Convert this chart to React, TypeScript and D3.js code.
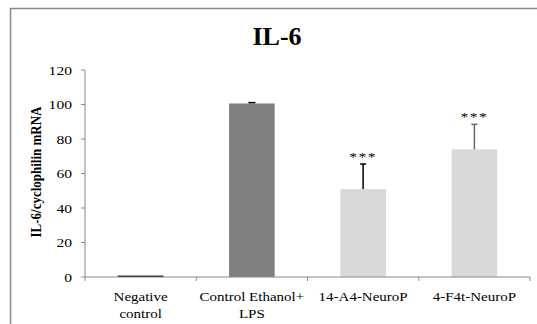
import React from "react";
import * as d3 from "d3";

const categories = ["Negative control", "Control Ethanol+ LPS", "14-A4-NeuroP", "4-F4t-NeuroP"];
const labelLines = [["Negative", "control"], ["Control Ethanol+", "LPS"], ["14-A4-NeuroP"], ["4-F4t-NeuroP"]];
const values = [0.8, 100.6, 51, 74];
const errors = [0, 0.5, 14.5, 14.5];
const significance = ["", "", "***", "***"];
const barColors = ["#000000", "#808080", "#d9d9d9", "#d9d9d9"];
const errColors = ["#000000", "#000000", "#000000", "#666666"];
const yTicks = [0, 20, 40, 60, 80, 100, 120];

const W = 537;
const H = 324;
const left = 85;
const right = 530;
const top = 70;
const bottom = 277;
const SX = 1.2;

export default function App() {
  const x = d3.scaleBand<string>().domain(categories).range([left, right]).paddingInner(0).paddingOuter(0);
  const y = d3.scaleLinear().domain([0, 120]).range([bottom, top]);
  const bw = x.bandwidth() * 0.41;
  const font = "Liberation Serif, Times New Roman, serif";

  return (
    <svg width={W} height={H} style={{ position: "absolute", left: 0, top: 0, background: "#fff", fontFamily: font }}>
      <rect x={10.5} y={8.5} width={W + 20} height={H + 20} fill="#fff" stroke="#8a8a8a" strokeWidth={1.5} />
      <text x={277} y={45} textAnchor="middle" fontSize={26} fontWeight="bold" style={{ fontFamily: font }}>IL-6</text>

      {/* y axis */}
      <line x1={left} x2={left} y1={y(120)} y2={bottom} stroke="#888" strokeWidth={1} />
      {yTicks.map((t) => (
        <g key={t}>
          <line x1={left - 4} x2={left} y1={y(t)} y2={y(t)} stroke="#888" strokeWidth={1} />
          <text transform={`translate(${left - 13},${y(t) + 4.5}) scale(${SX},1)`} textAnchor="end" fontSize={13} style={{ fontFamily: font }}>{t}</text>
        </g>
      ))}
      <text transform={`translate(41,172) rotate(-90) scale(1,${SX})`} textAnchor="middle" fontSize={13} fontWeight="bold" style={{ fontFamily: font }}>IL-6/cyclophilin mRNA</text>

      {/* bars */}
      {categories.map((c, i) => {
        const cx = (x(c) as number) + x.bandwidth() / 2;
        const yTop = y(values[i]);
        const yErr = y(values[i] + errors[i]);
        return (
          <g key={c}>
            <rect x={cx - bw / 2} y={yTop} width={bw} height={bottom - yTop} fill={barColors[i]} />
            {errors[i] > 1 && (
              <>
                <line x1={cx} x2={cx} y1={yTop} y2={yErr} stroke={errColors[i]} strokeWidth={1.5} />
                <line x1={cx - 3} x2={cx + 3} y1={yErr} y2={yErr} stroke={errColors[i]} strokeWidth={1.5} />
              </>
            )}
            {errors[i] > 0 && errors[i] <= 1 && (
              <line x1={cx - 3.5} x2={cx + 3.5} y1={yErr} y2={yErr} stroke={errColors[i]} strokeWidth={1.5} />
            )}
            {significance[i] && (
              <text transform={`translate(${cx},${yErr - 3}) scale(${SX},1)`} textAnchor="middle" fontSize={13} letterSpacing={1.2} style={{ fontFamily: font }}>{significance[i]}</text>
            )}
          </g>
        );
      })}

      {/* x axis */}
      <line x1={left} x2={right} y1={bottom} y2={bottom} stroke="#888" strokeWidth={1} />
      {[...categories.map((c) => x(c) as number), right].map((t, i) => (
        <line key={i} x1={t} x2={t} y1={bottom} y2={bottom + 4} stroke="#888" strokeWidth={1} />
      ))}
      {categories.map((c, i) => {
        const cx = (x(c) as number) + x.bandwidth() / 2;
        return labelLines[i].map((ln, j) => (
          <text key={c + j} transform={`translate(${cx},${300.5 + j * 17.5}) scale(${SX},1)`} textAnchor="middle" fontSize={12.5} style={{ fontFamily: font }}>{ln}</text>
        ));
      })}
    </svg>
  );
}
